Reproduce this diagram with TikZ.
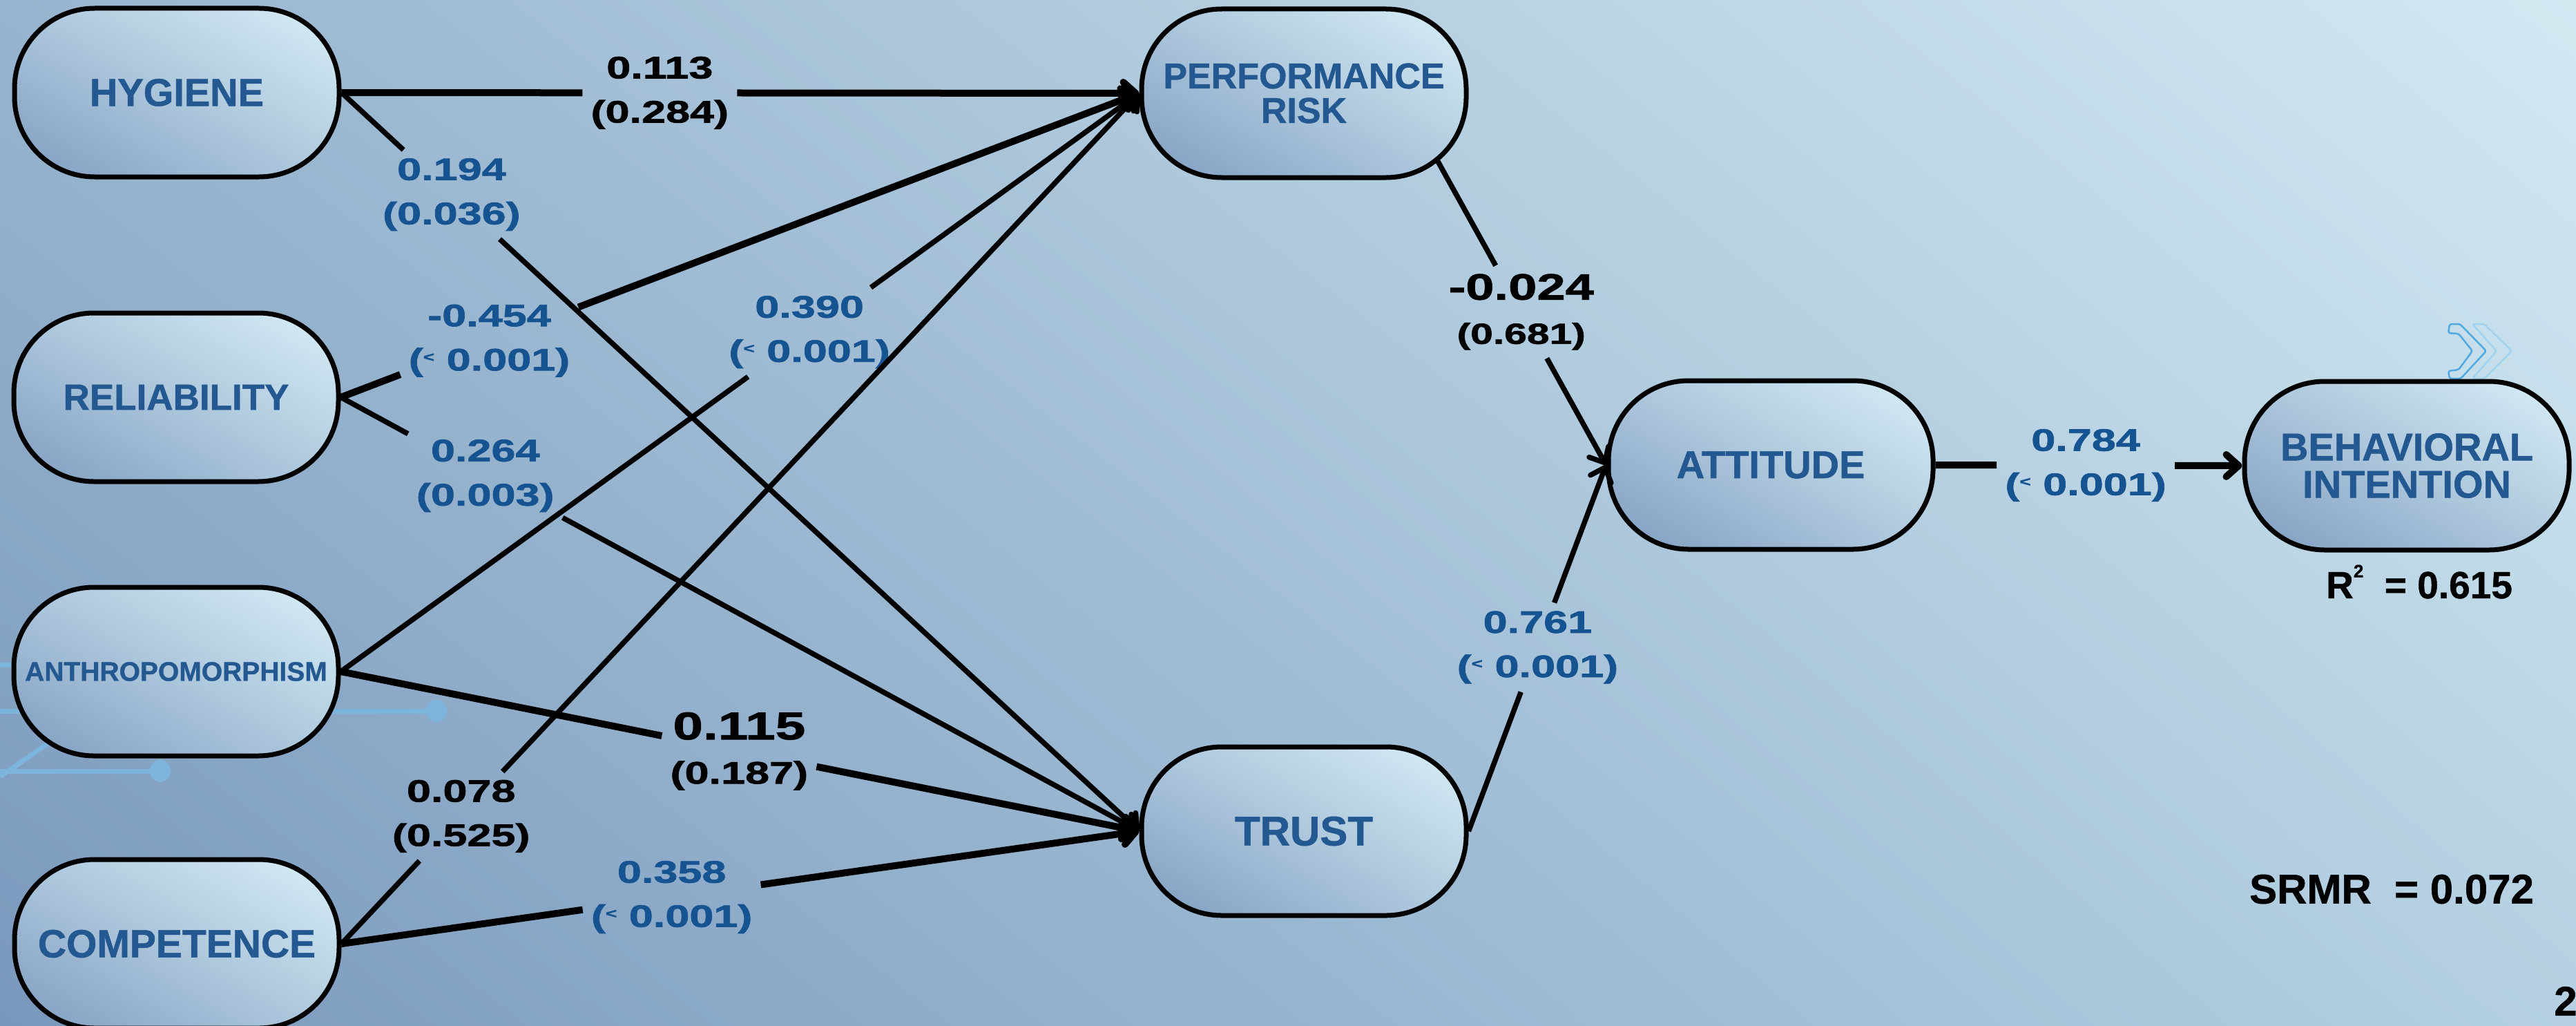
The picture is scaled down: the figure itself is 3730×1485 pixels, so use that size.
\documentclass[tikz,border=0pt]{standalone}
\usepackage{fontspec}
\setmainfont{Liberation Sans}
\newfontfamily\nodefont[FakeBold=0.9]{Liberation Sans Bold}
\newfontfamily\lblfont[FakeStretch=1.4,FakeBold=1.6]{Liberation Sans Bold}
\newfontfamily\statfont[FakeBold=0.8]{Liberation Sans Bold}
\usetikzlibrary{arrows.meta,calc,shadings}
\definecolor{nodetxt}{RGB}{35,88,145}
\definecolor{lblblue}{RGB}{22,83,145}
\definecolor{circ}{RGB}{125,180,220}
\definecolor{chevA}{RGB}{80,170,225}
\definecolor{chevB}{RGB}{160,212,238}
\definecolor{bgUL}{RGB}{152,181,207}
\definecolor{bgUR}{RGB}{210,233,242}
\definecolor{bgLL}{RGB}{122,152,188}
\definecolor{bgLR}{RGB}{180,208,226}
\definecolor{ndUL}{RGB}{172,198,220}
\definecolor{ndUR}{RGB}{216,239,247}
\definecolor{ndLL}{RGB}{128,156,191}
\definecolor{ndLR}{RGB}{176,203,223}
\newcommand{\ltsign}{\raisebox{0.28em}{\fontsize{20}{20}\selectfont<}}
\begin{document}
\begin{tikzpicture}[x=1pt,y=-1pt,
  var/.style={rectangle, rounded corners=116pt, draw=black, line width=7pt,
    minimum width=470pt, minimum height=244pt, inner sep=0pt, align=center,
    text=nodetxt, shade, upper left=ndUL, upper right=ndUR,
    lower left=ndLL, lower right=ndLR},
  lbl/.style={inner sep=12pt, align=center,
    font=\lblfont\fontsize{45}{64}\selectfont},
  bluelbl/.style={lbl, text=lblblue},
  blacklbl/.style={lbl, text=black},
  edge/.style={draw=black, line width=7.5pt},
  thk/.style={line width=10pt},
  arr/.style={-{Straight Barb[length=18pt,width=32pt,round]}},
  deco/.style={draw=circ, line width=7pt},
  stat/.style={font=\statfont\fontsize{60}{64}\selectfont, text=black, inner sep=0pt}
]
\useasboundingbox (0,0) rectangle (3730,1485);
\shade[upper left=bgUL, upper right=bgUR, lower left=bgLL, lower right=bgLR]
  (0,0) rectangle (3730,1485);

% decorative circuit lines
\draw[deco] (0,962) -- (80,962);
\draw[deco] (0,1029) -- (632,1029);
\fill[circ] (632,1029) ellipse (15 and 16);
\draw[deco] (0,1116) -- (232,1116);
\fill[circ] (232,1116) ellipse (15 and 16);
\draw[deco] (0,1124) -- (90,1062);

% chevrons
\draw[chevA, line width=2.5pt, rounded corners=3pt]
  (3547,469) -- (3562,469) -- (3600,508) -- (3563,548) -- (3547,548) --
  (3545,537) -- (3560,535) -- (3580,508) -- (3560,483) -- (3545,482) -- cycle;
\draw[chevB, line width=2.5pt, rounded corners=3pt]
  (3580,469) -- (3597,469) -- (3637,508) -- (3597,548) -- (3580,548) --
  (3615,508) -- cycle;

% construct nodes
\node[var, font=\nodefont\fontsize{56}{60}\selectfont] (hyg) at (256,134) {HYGIENE};
\node[var, font=\nodefont\fontsize{53}{60}\selectfont] (rel) at (255,575) {RELIABILITY};
\node[var, font=\nodefont\fontsize{39}{44}\selectfont] (ant) at (255,972) {ANTHROPOMORPHISM};
\node[var, font=\nodefont\fontsize{57}{60}\selectfont] (com) at (256,1366) {COMPETENCE};
\node[var, font=\nodefont\fontsize{52}{50}\selectfont] (pr) at (1888,135) {PERFORMANCE\\RISK};
\node[var, font=\nodefont\fontsize{60}{60}\selectfont] (tru) at (1888,1203) {TRUST};
\node[var, font=\nodefont\fontsize{56}{60}\selectfont] (att) at (2564,673) {ATTITUDE};
\node[var, font=\nodefont\fontsize{56}{54}\selectfont] (bi) at (3485,674) {BEHAVIORAL\\INTENTION};

\coordinate (prout) at ($(pr.center)+(192,95)$);

% path labels
\node[blacklbl] (l1) at ($(hyg.east)!0.399!(pr.west)$) {0.113\\(0.284)};
\node[bluelbl] (l2) at ($(hyg.east)!0.138!(tru.west)$) {0.194\\(0.036)};
\node[bluelbl] (l3) at ($(rel.east)!0.186!(pr.west)$) {-0.454\\(\ltsign\ 0.001)};
\node[bluelbl] (l4) at ($(rel.east)!0.181!(tru.west)$) {0.264\\(0.003)};
\node[bluelbl] (l5) at ($(ant.east)!0.587!(pr.west)$) {0.390\\(\ltsign\ 0.001)};
\node[blacklbl] (l6) at ($(ant.east)!0.499!(tru.west)$) {{\fontsize{56}{64}\selectfont 0.115}\\(0.187)};
\node[blacklbl] (l7) at ($(com.east)!0.150!(pr.west)$) {0.078\\(0.525)};
\node[bluelbl] (l8) at ($(com.east)!0.414!(tru.west)$) {0.358\\(\ltsign\ 0.001)};
\node[blacklbl] (l9) at ($(prout)!0.50!(att.west)$) {{\fontsize{53}{64}\selectfont -0.024}\\{\fontsize{42}{60}\selectfont (0.681)}};
\node[bluelbl] (l10) at ($(tru.east)!0.502!(att.west)$) {0.761\\(\ltsign\ 0.001)};
\node[bluelbl] (l11) at ($(att.east)!0.49!(bi.west)$) {0.784\\(\ltsign\ 0.001)};

% connectors
\draw[edge,thk] (hyg.east) -- (l1);  \draw[edge,thk,arr] (l1) -- (pr.west);
\draw[edge] (hyg.east) -- (l2);      \draw[edge,arr] (l2) -- (tru.west);
\draw[edge,thk] (rel.east) -- (l3);  \draw[edge,thk,arr] (l3) -- (pr.west);
\draw[edge] (rel.east) -- (l4);      \draw[edge,arr] (l4) -- (tru.west);
\draw[edge] (ant.east) -- (l5);      \draw[edge,arr] (l5) -- (pr.west);
\draw[edge,thk] (ant.east) -- (l6);  \draw[edge,thk,arr] (l6) -- (tru.west);
\draw[edge] (com.east) -- (l7);      \draw[edge,arr] (l7) -- (pr.west);
\draw[edge,thk] (com.east) -- (l8);  \draw[edge,thk,arr] (l8) -- (tru.west);
\draw[edge] (prout) -- (l9);         \draw[edge,arr] (l9) -- (att.west);
\draw[edge] (tru.east) -- (l10);     \draw[edge,arr] (l10) -- (att.west);
\draw[edge,thk] (att.east) -- (l11); \draw[edge,thk,arr] (l11) -- (bi.west);

% statistics
\node[stat, font=\statfont\fontsize{55}{60}\selectfont] (r2) at (3503,842)
  {R\raisebox{0.55em}{\fontsize{26}{26}\selectfont 2}\ \ = 0.615};
\node[stat] (srmr) at (3463,1287) {SRMR\ \ = 0.072};
\node[stat, anchor=west] (pg) at (3698,1449) {2};
\end{tikzpicture}
\end{document}
